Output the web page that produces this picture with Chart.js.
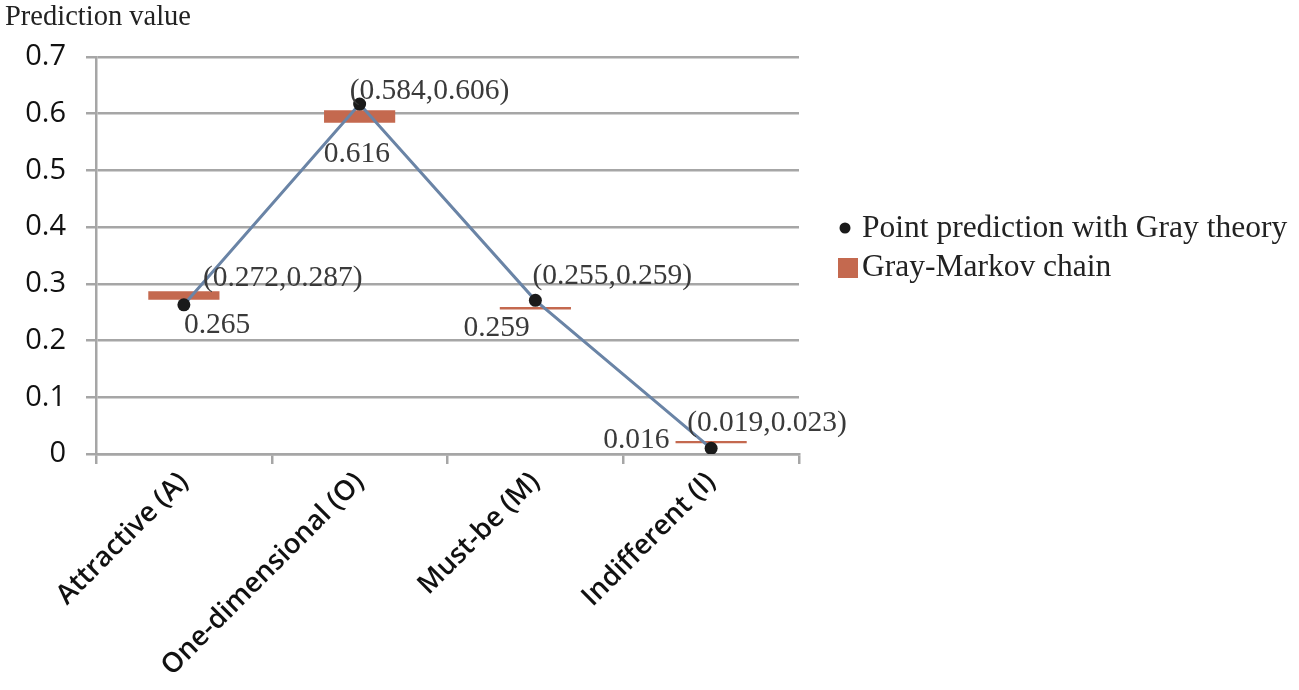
<!DOCTYPE html>
<html>
<head>
<meta charset="utf-8">
<title>Prediction value</title>
<script src="https://cdn.jsdelivr.net/npm/chart.js@4"></script>
<style>
  html, body { margin: 0; padding: 0; background: #fff; }
  #wrap { width: 1299px; height: 690px; position: relative; }
</style>
</head>
<body>
<div id="wrap"><canvas id="chart"></canvas></div>
<script>
// data
const categories = ['Attractive (A)', 'One-dimensional (O)', 'Must-be (M)', 'Indifferent (I)'];
const grayLow = [0.272, 0.584, 0.255, 0.019];
const grayHigh = [0.287, 0.606, 0.259, 0.023];
const pointValues = [0.263, 0.617, 0.271, 0.010];
const pointLabels = ['0.265', '0.616', '0.259', '0.016'];
const yTicks = [0, 0.1, 0.2, 0.3, 0.4, 0.5, 0.6, 0.7];

// label offsets (px) from category centre / value position
const rangeLabelOffset = [[19, -13], [-10, -19], [-3, -31], [-24, -18]];
const pointLabelOffset = [[0, 20], [-36, 50], [-72, 28], [-108, -8]];

const serif = '"Liberation Serif", "Times New Roman", serif';
const sans = '"Open Sans", "Liberation Sans", sans-serif';
const gridColor = '#a6a6a6';
const barColor = '#c4694f';

// draws title, data labels and the legend
const extras = {
  id: 'extras',
  afterDraw(chart) {
    const ctx = chart.ctx;
    const x = chart.scales.x;
    const y = chart.scales.y;
    ctx.save();

    ctx.fillStyle = '#222';
    ctx.font = '28.5px ' + serif;
    ctx.textAlign = 'left';
    ctx.textBaseline = 'alphabetic';
    ctx.fillText('Prediction value', 5, 25);

    ctx.fillStyle = '#3a3a3a';
    ctx.font = '29.5px ' + serif;
    ctx.textBaseline = 'middle';
    categories.forEach((c, i) => {
      const cx = x.getPixelForValue(i);
      const r = rangeLabelOffset[i];
      const rangeText = '(' + grayLow[i].toFixed(3) + ',' + grayHigh[i].toFixed(3) + ')';
      ctx.fillText(rangeText, cx + r[0], y.getPixelForValue(grayHigh[i]) + r[1]);
      const p = pointLabelOffset[i];
      ctx.fillText(pointLabels[i], cx + p[0], y.getPixelForValue(pointValues[i]) + p[1]);
    });

    // legend
    ctx.fillStyle = '#1a1a1a';
    ctx.beginPath();
    ctx.arc(845, 228, 5.5, 0, Math.PI * 2);
    ctx.fill();
    ctx.fillStyle = barColor;
    ctx.fillRect(838, 258, 20, 20);
    ctx.fillStyle = '#222';
    ctx.font = '31.5px ' + serif;
    ctx.fillText('Point prediction with Gray theory', 862, 229);
    ctx.fillText('Gray-Markov chain', 862, 268);
    ctx.restore();
  }
};

new Chart(document.getElementById('chart'), {
  type: 'bar',
  data: {
    labels: categories,
    datasets: [
      {
        type: 'line',
        label: 'Point prediction with Gray theory',
        data: pointValues,
        borderColor: '#6a84a6',
        borderWidth: 3,
        pointRadius: 6.5,
        pointBackgroundColor: '#1a1a1a',
        pointBorderWidth: 0,
        tension: 0,
        order: 0
      },
      {
        label: 'Gray-Markov chain',
        data: grayLow.map((v, i) => [v, grayHigh[i]]),
        backgroundColor: barColor,
        borderWidth: 0,
        barPercentage: 1,
        categoryPercentage: 0.405,
        order: 1
      }
    ]
  },
  options: {
    responsive: true,
    maintainAspectRatio: false,
    animation: false,
    devicePixelRatio: 1,
    layout: { padding: { left: 0, right: 500, top: 57, bottom: 0 } },
    plugins: {
      legend: { display: false },
      tooltip: { enabled: false }
    },
    scales: {
      x: {
        offset: true,
        grid: {
          offset: true,
          drawOnChartArea: false,
          drawTicks: true,
          tickLength: 10,
          color: gridColor,
          lineWidth: 2.5
        },
        border: { color: gridColor, width: 2.5 },
        ticks: {
          minRotation: 45,
          maxRotation: 45,
          color: '#111',
          padding: 2,
          font: { family: sans, size: 27.5, weight: '600' }
        },
        afterFit(scale) { scale.height = 236; }
      },
      y: {
        min: 0,
        max: 0.7,
        afterBuildTicks(scale) { scale.ticks = yTicks.map(v => ({ value: v })); },
        grid: {
          color: gridColor,
          lineWidth: 2.5,
          tickLength: 10
        },
        border: { color: gridColor, width: 2.5 },
        ticks: {
          color: '#111',
          padding: 20,
          font: { family: sans, size: 29 },
          callback: v => String(Math.round(v * 10) / 10)
        },
        afterFit(scale) { scale.width = 96; }
      }
    }
  },
  plugins: [extras]
});
</script>
</body>
</html>
